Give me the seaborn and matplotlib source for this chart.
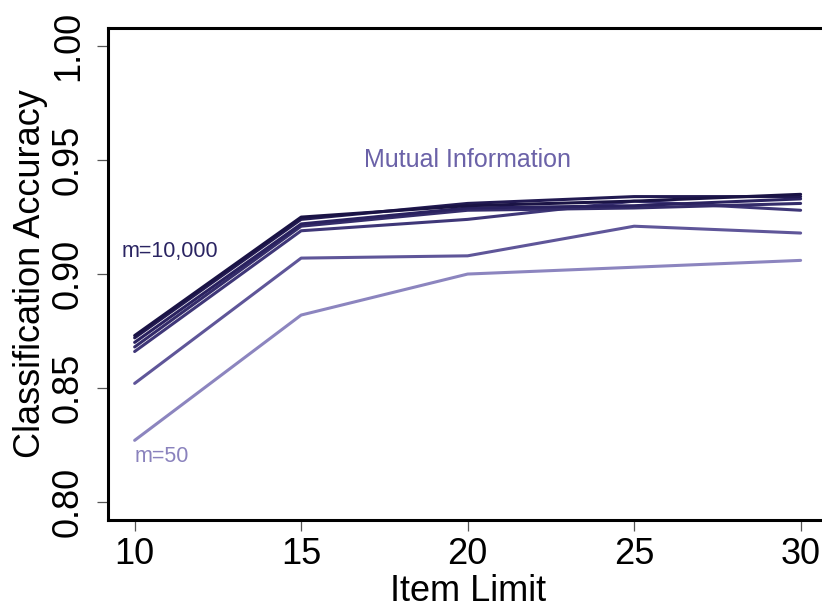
import numpy as np
import pandas as pd
import seaborn as sns
import matplotlib.pyplot as plt

# values
item_limit = [10, 15, 20, 25, 30]
m_labels = ["m=50", "m=100", "m=500", "m=1,000", "m=2,000", "m=5,000", "m=10,000"]
acc_m50 = [0.827, 0.882, 0.900, 0.903, 0.906]
acc_m100 = [0.852, 0.907, 0.908, 0.921, 0.918]
acc_m500 = [0.866, 0.919, 0.924, 0.932, 0.928]
acc_m1000 = [0.868, 0.921, 0.928, 0.929, 0.931]
acc_m2000 = [0.870, 0.922, 0.929, 0.930, 0.933]
acc_m5000 = [0.872, 0.924, 0.931, 0.934, 0.934]
acc_m10000 = [0.873, 0.925, 0.930, 0.932, 0.935]
line_colors = ["#8c85bf", "#5f5699", "#3f3778", "#342c6a", "#2a2260", "#221a52", "#1a1345"]

series = [acc_m50, acc_m100, acc_m500, acc_m1000, acc_m2000, acc_m5000, acc_m10000]
df = pd.DataFrame({
    "item_limit": item_limit * len(series),
    "accuracy": np.concatenate(series),
    "m": np.repeat(m_labels, len(item_limit)),
})

sns.set_style("white")
plt.rcParams['font.family'] = ['Liberation Sans', 'DejaVu Sans']

fig = plt.figure(figsize=(8.22, 6.09), dpi=100)
ax = fig.add_axes([0.1314, 0.146, 0.875, 0.808])

sns.lineplot(data=df, x="item_limit", y="accuracy", hue="m", hue_order=m_labels,
             palette=line_colors, linewidth=2.2, legend=False, ax=ax)

ax.set_xlim(9.2, 30.8)
ax.set_ylim(0.792, 1.008)
ax.set_xticks(item_limit)
ax.set_yticks([0.80, 0.85, 0.90, 0.95, 1.00])
ax.set_yticklabels(["0.80", "0.85", "0.90", "0.95", "1.00"], rotation=90, va="center")
ax.tick_params(axis="both", bottom=True, left=True, labelsize=26, length=8,
               width=0.9, color="#555555", labelcolor="black", direction="out")
ax.tick_params(axis="x", pad=4)
ax.tick_params(axis="y", pad=8)
ax.set_xlabel("Item Limit", fontsize=26, color="black", labelpad=1.5)
ax.set_ylabel("Classification Accuracy", fontsize=26, color="black", labelpad=2)

for side in ["left", "bottom", "top"]:
    ax.spines[side].set_linewidth(2.2)
    ax.spines[side].set_color("black")
ax.spines["right"].set_visible(False)

ax.text(20, 0.950, "Mutual Information", fontsize=18, color="#6b62a8",
        ha="center", va="center")
ax.text(9.6, 0.910, "m=10,000", fontsize=15.5, color="#2a2462", ha="left", va="center")
ax.text(10.0, 0.820, "m=50", fontsize=15.5, color="#8a82bd", ha="left", va="center")

fig.savefig("out.png", dpi=100)
